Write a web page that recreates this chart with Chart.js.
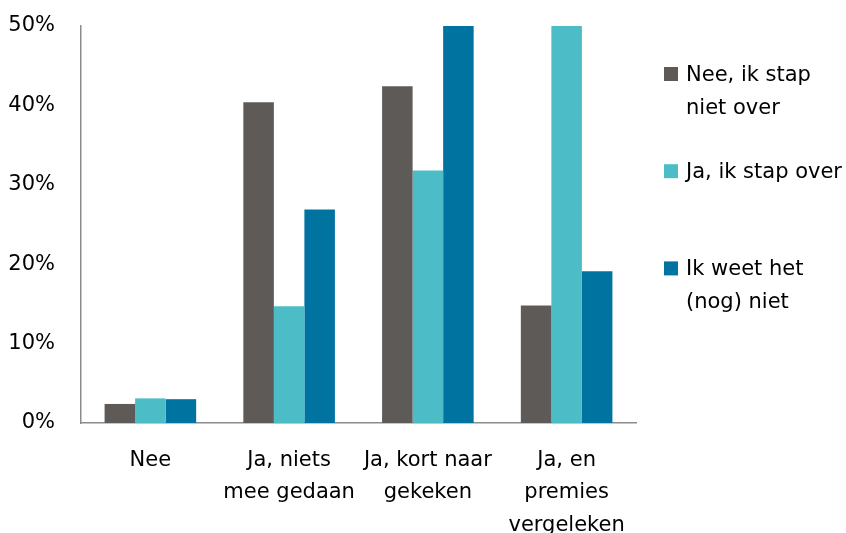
<!DOCTYPE html>
<html>
<head>
<meta charset="utf-8">
<script src="https://cdn.jsdelivr.net/npm/chart.js@4.4.1/dist/chart.umd.min.js"></script>
<style>
  html, body { margin: 0; padding: 0; background: #fff; }
  #wrap { position: relative; width: 846px; height: 533px; }
</style>
</head>
<body>
<div id="wrap"><canvas id="chart"></canvas></div>
<script>
  // ## Data ####################################################################
  const categories = [
    'Nee',
    ['Ja, niets', 'mee gedaan'],
    ['Ja, kort naar', 'gekeken'],
    ['Ja, en', 'premies', 'vergeleken']
  ];

  // legend text, one entry per series, already split into lines
  const seriesLabels = [
    ['Nee, ik stap', 'niet over'],
    ['Ja, ik stap over'],
    ['Ik weet het', '(nog) niet']
  ];

  const neeStapNiet = [2.4, 40.4, 42.4, 14.8];
  const jaStapOver  = [3.1, 14.7, 31.8, 50.4];
  const weetNiet    = [3.0, 26.9, 51.0, 19.1];

  const yTicks = [0, 10, 20, 30, 40, 50];

  const colors = ['#5E5A57', '#4CBCC6', '#0073A1'];
  const FONT = 'DejaVu Sans';

  // ## Legend drawn beside the plot ###########################################
  const sideLegend = {
    id: 'sideLegend',
    afterDraw(chart, _args, opts) {
      const c = chart.ctx;
      c.save();
      c.font = `${opts.size}px "${FONT}"`;
      c.textBaseline = 'alphabetic';
      c.textAlign = 'left';
      chart.data.datasets.forEach((ds, i) => {
        const base = opts.top + i * opts.gap;
        c.fillStyle = ds.backgroundColor;
        c.fillRect(opts.left, base - opts.box, opts.box, opts.box);
        c.fillStyle = '#000';
        ds.lines.forEach((line, j) => {
          c.fillText(line, opts.left + opts.box + 8, base + j * opts.lineHeight);
        });
      });
      c.restore();
    }
  };

  const datasets = [neeStapNiet, jaStapOver, weetNiet].map((vals, i) => ({
    label: seriesLabels[i].join(' '),
    lines: seriesLabels[i],
    data: vals,
    backgroundColor: colors[i],
    borderWidth: 0,
    categoryPercentage: 0.66,
    barPercentage: 1.0
  }));

  new Chart(document.getElementById('chart'), {
    type: 'bar',
    data: { labels: categories, datasets },
    plugins: [sideLegend],
    options: {
      responsive: true,
      maintainAspectRatio: false,
      animation: false,
      layout: { padding: { top: 26, right: 210, left: 0, bottom: 0 } },
      plugins: {
        legend: { display: false },
        tooltip: { enabled: false },
        sideLegend: { left: 664, top: 81, gap: 97.2, box: 14, lineHeight: 32.7, size: 21 }
      },
      scales: {
        x: {
          grid: { display: false, drawTicks: false },
          border: { display: true, color: '#8C8C8C', width: 1.5 },
          ticks: {
            color: '#000',
            padding: 21,
            maxRotation: 0,
            autoSkip: false,
            font: { family: FONT, size: 21, lineHeight: 1.55 }
          },
          afterFit(scale) { scale.height = 110; }
        },
        y: {
          min: 0,
          max: 50,
          grid: { display: false, drawTicks: false },
          border: { display: true, color: '#8C8C8C', width: 1.5 },
          afterBuildTicks(scale) { scale.ticks = yTicks.map(v => ({ value: v })); },
          ticks: {
            color: '#000',
            padding: 26,
            font: { family: FONT, size: 21 },
            callback: v => v + '%'
          },
          // tick padding would otherwise push the plot top down
          afterFit(scale) {
            scale.width = 81;
            scale.paddingTop = 0;
            scale.paddingBottom = 0;
          }
        }
      }
    }
  });
</script>
</body>
</html>
